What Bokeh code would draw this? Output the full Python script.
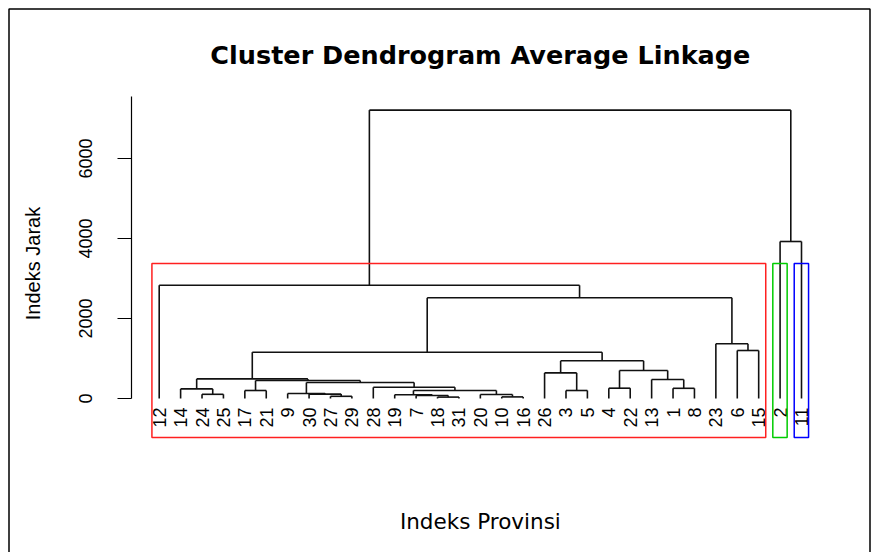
import numpy as np
from bokeh.plotting import figure
from bokeh.models import Range1d, FixedTicker
from bokeh.core.properties import value
from bokeh.embed import file_html
from bokeh.resources import INLINE

# ---------------- data ----------------
leaf_order = [12, 14, 24, 25, 17, 21, 9, 30, 27, 29, 28, 19, 7, 18, 31, 20, 10, 16,
              26, 3, 5, 4, 22, 13, 1, 8, 23, 6, 15, 2, 11]
# R-style merge matrix: negative = leaf label, positive = earlier merge (1-based)
merge_left = [-10, -18, -27, -7, -20, -19, -30, -24, -9, -3, -17, 6, -14, -4, -1,
              -28, 9, 11, -13, 13, -26, 14, 21, 20, -6, -23, 24, -12, -2, 28]
merge_right = [-16, -31, -29, 2, 1, 4, 3, -25, 7, -5, -21, 5, 8, -22, -8,
               12, 16, 17, 15, 18, 10, 19, 22, 23, -15, 25, 26, 27, -11, 29]
merge_height = [40, 35, 55, 75, 100, 95, 110, 105, 125, 200, 200, 200, 240, 258, 255,
                280, 400, 450, 475, 490, 640, 700, 942, 1158, 1200, 1367, 2517, 2830, 3925, 7210]
n_clusters = 3
cluster_colors = ["#FF2020", "#00CC00", "#0000FF"]
y_ticks = [0, 2000, 4000, 6000]
title_text = "Cluster Dendrogram Average Linkage"
x_label = "Indeks Provinsi"
y_label = "Indeks Jarak"

# ---------------- layout constants (pixels) ----------------
W, H = 878, 552
ml, mt = 131, 96
frame_w, frame_h = 709, 302
mr = W - ml - frame_w
mb = H - mt - frame_h
px_per_leaf = 21.41
first_leaf_px = 158.7
x_start = 1 - (first_leaf_px - ml) / px_per_leaf
x_end = x_start + frame_w / px_per_leaf
y_top = 7550
units_per_px = y_top / frame_h
frame_bottom = mt + frame_h

def dx(px):
    return x_start + (px - ml) / px_per_leaf

def dy(py):
    return (frame_bottom - py) * units_per_px

usr_bottom = dy(437)   # bottom of R plot region

# ---------------- tree geometry ----------------
leaf_pos = {lab: i + 1 for i, lab in enumerate(leaf_order)}
node_x, node_h = [], []

def child(c):
    if c < 0:
        return leaf_pos[-c], 0.0
    return node_x[c - 1], node_h[c - 1]

x0s, y0s, x1s, y1s = [], [], [], []
for a, b, h in zip(merge_left, merge_right, merge_height):
    xa, ha = child(a)
    xb, hb = child(b)
    x0s += [xa, xa, xb]
    y0s += [h, h, h]
    x1s += [xb, xa, xb]
    y1s += [h, ha, hb]
    node_x.append((xa + xb) / 2)
    node_h.append(h)

order_desc = np.argsort(merge_height)[::-1]
top = set(int(i) + 1 for i in order_desc[:n_clusters - 1])

def leaves_of(c):
    if c < 0:
        return [-c]
    return leaves_of(merge_left[c - 1]) + leaves_of(merge_right[c - 1])

groups = []
for m in top:
    for c in (merge_left[m - 1], merge_right[m - 1]):
        if c < 0 or c not in top:
            idx = [leaf_pos[l] for l in leaves_of(c)]
            groups.append((min(idx), max(idx)))
groups.sort()
hs = sorted(merge_height, reverse=True)
rect_top = (hs[n_clusters - 2] + hs[n_clusters - 1]) / 2

# ---------------- figure ----------------
p = figure(width=W, height=H, x_range=Range1d(x_start, x_end), y_range=Range1d(0, y_top),
           output_backend="svg", toolbar_location=None, x_axis_type=None,
           min_border_left=ml, min_border_right=mr, min_border_top=mt, min_border_bottom=mb)
p.grid.visible = False
p.outline_line_color = None
p.background_fill_color = "white"
p.border_fill_color = "white"

p.segment(x0=x0s, y0=y0s, x1=x1s, y1=y1s, line_color="#111111", line_width=1.6, level="overlay")

p.text(x=[leaf_pos[l] for l in leaf_order], y=[0] * len(leaf_order), text=[str(l) for l in leaf_order],
       angle=np.pi / 2, text_align="right", text_baseline="middle", y_offset=9,
       text_font=value("Liberation Sans"), text_font_size="18px", text_color="black", level="overlay")

p.quad(left=[g[0] - 0.34 for g in groups], right=[g[1] + 0.33 for g in groups],
       top=[rect_top] * len(groups), bottom=[usr_bottom] * len(groups),
       fill_color=None, line_color=cluster_colors[:len(groups)], line_width=1.5, level="overlay")

ax = p.yaxis[0]
ax.ticker = FixedTicker(ticks=y_ticks)
ax.major_label_orientation = "vertical"
ax.major_tick_out = 14
ax.major_tick_in = 0
ax.minor_tick_line_color = None
ax.major_label_standoff = 26
ax.major_label_text_font = "Liberation Sans"
ax.major_label_text_font_size = "18px"
ax.major_label_text_color = "black"
ax.axis_line_color = "black"
ax.axis_line_width = 1.2
ax.major_tick_line_color = "black"

xc = (1 + len(leaf_order)) / 2
p.text(x=[xc], y=[dy(54)], text=[title_text], text_align="center", text_baseline="middle",
       text_font=value("DejaVu Sans"), text_font_style="bold", text_font_size="25.5px",
       text_color="black", level="overlay")
p.text(x=[xc], y=[dy(521)], text=[x_label], text_align="center", text_baseline="middle",
       text_font=value("DejaVu Sans"), text_font_size="21.5px", text_color="black", level="overlay")
p.text(x=[dx(32)], y=[dy(263)], text=[y_label], angle=np.pi / 2, text_align="center",
       text_baseline="middle", text_font=value("Liberation Sans"), text_font_size="20px",
       text_color="black", level="overlay")

# outer frame of the picture
p.quad(left=[dx(8.5)], right=[dx(869.5)], top=[dy(8.5)], bottom=[dy(600)],
       fill_color=None, line_color="black", line_width=1.5, level="overlay")

open("out.html", "w").write(file_html(p, INLINE))
